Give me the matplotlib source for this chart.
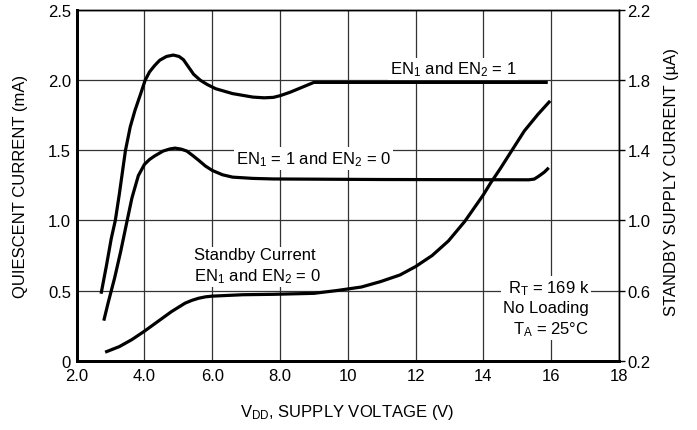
import numpy as np
import matplotlib
matplotlib.use("Agg")
import matplotlib.pyplot as plt

plt.rcParams['font.family'] = ['Liberation Sans', 'DejaVu Sans']

# EN1 and EN2 = 1 (mA, left axis)
v_both = [2.72, 2.88, 3.02, 3.14, 3.26, 3.37, 3.44, 3.58, 3.72, 3.89, 4.02, 4.15, 4.30, 4.45,
          4.65, 4.85, 5.02, 5.15, 5.30, 5.45, 5.65, 5.85, 6.1, 6.6, 7.2, 7.53, 7.8, 8.0, 8.3,
          8.6, 9.0, 12.0, 15.9]
i_both = [0.477, 0.68, 0.87, 1.0, 1.19, 1.38, 1.5, 1.667, 1.785, 1.905, 2.0, 2.06, 2.105, 2.143,
          2.17, 2.18, 2.17, 2.147, 2.095, 2.043, 2.0, 1.97, 1.94, 1.905, 1.88, 1.875, 1.878, 1.89,
          1.915, 1.945, 1.985, 1.985, 1.985]

# EN1 = 1 and EN2 = 0 (mA, left axis)
v_one = [2.80, 2.93, 3.12, 3.30, 3.49, 3.63, 3.82, 4.0, 4.15, 4.30, 4.55, 4.75, 4.90,
         5.08, 5.25, 5.42, 5.60, 5.80, 6.0, 6.3, 6.6, 7.2, 7.8, 11.0, 15.34, 15.5, 15.63,
         15.8, 15.93]
i_one = [0.285, 0.414, 0.59, 0.78, 1.0, 1.16, 1.32, 1.40, 1.435, 1.46, 1.495, 1.51, 1.516,
         1.509, 1.495, 1.464, 1.429, 1.388, 1.357, 1.326, 1.309, 1.30, 1.296, 1.292, 1.29, 1.295,
         1.315, 1.345, 1.376]

# Standby current, EN1 and EN2 = 0 (read on the left grid, converted to uA below)
v_stby = [2.84, 3.26, 3.63, 4.0, 4.40, 4.80, 5.20, 5.40, 5.60, 5.80, 6.0, 6.9, 7.8, 9.0, 9.68,
          10.4, 10.97, 11.54, 12.0, 12.49, 12.97, 13.45, 13.83, 14.0, 14.21, 14.5, 14.8, 15.21,
          15.61, 15.97]
l_stby = [0.06, 0.10, 0.15, 0.21, 0.28, 0.35, 0.41, 0.43, 0.445, 0.455, 0.46, 0.47, 0.473, 0.48, 0.50,
          0.525, 0.564, 0.611, 0.671, 0.75, 0.854, 0.993, 1.124, 1.183, 1.266, 1.37, 1.484, 1.639,
          1.757, 1.853]
ua_stby = [0.2 + 0.8 * v for v in l_stby]

x_ticks = [2, 4, 6, 8, 10, 12, 14, 16, 18]
x_labels = ["2.0", "4.0", "6.0", "8.0", "10", "12", "14", "16", "18"]
y_ticks = [0, 0.5, 1.0, 1.5, 2.0, 2.5]
y_labels = ["0", "0.5", "1.0", "1.5", "2.0", "2.5"]
r_ticks = [0.2, 0.6, 1.0, 1.4, 1.8, 2.2]

fig = plt.figure(figsize=(6.97, 4.31), dpi=100)
ax = fig.add_axes([0.110, 0.161, 0.778, 0.813])
ax2 = ax.twinx()

fs = 12
lw = 2.3
for xs, ys, a in [(v_both, i_both, ax), (v_one, i_one, ax), (v_stby, ua_stby, ax2)]:
    a.plot(xs, ys, color='black', lw=lw, solid_capstyle='butt', solid_joinstyle='round', zorder=3)

ax.set_xlim(2, 18)
ax.set_ylim(0, 2.5)
ax2.set_ylim(0.2, 2.2)
ax.set_xticks(x_ticks)
ax.set_xticklabels(x_labels, fontsize=fs)
ax.set_yticks(y_ticks)
ax.set_yticklabels(y_labels, fontsize=fs)
ax2.set_yticks(r_ticks)
ax2.set_yticklabels([f"{t:.1f}" for t in r_ticks], fontsize=fs)

ax.grid(True, color='#333333', lw=0.9)
ax.set_axisbelow(True)
ax.tick_params(axis='x', length=0, pad=5)
ax.tick_params(axis='y', length=0, pad=4)
ax2.tick_params(axis='y', length=4, width=1, direction='out', pad=2)

for a in [ax, ax2]:
    a.spines['left'].set_linewidth(2.0)
    a.spines['bottom'].set_linewidth(2.0)
    a.spines['top'].set_linewidth(1.0)
    a.spines['right'].set_linewidth(1.0)

box = dict(facecolor='white', edgecolor='none', pad=1.5)
sub = lambda s: r"$\mathregular{_{" + s + "}}$"
ax.text(13.1, 2.08, "EN" + sub("1") + " and EN" + sub("2") + " = 1", fontsize=fs,
        ha='center', va='center', bbox=box, zorder=4)
ax.text(9.0, 1.44, "EN" + sub("1") + " = 1 and EN" + sub("2") + " = 0", fontsize=fs,
        ha='center', va='center', bbox=box, zorder=4)
ax.text(5.46, 0.675, "Standby Current\nEN" + sub("1") + " and EN" + sub("2") + " = 0", fontsize=fs,
        ha='left', va='center', bbox=box, zorder=4, linespacing=1.3)
ax.text(17.12, 0.375, "R" + sub("T") + " = 169 k\nNo Loading\nT" + sub("A") + " = 25°C", fontsize=fs,
        ha='right', va='center', bbox=box, zorder=4, linespacing=1.3)

fig.text(20.7 / 697, 1 - 186.7 / 431, "QUIESCENT CURRENT (mA)", rotation=90, fontsize=fs,
         ha='center', va='center')
fig.text(671.7 / 697, 1 - 182 / 431, "STANDBY SUPPLY CURRENT (µA)", rotation=90, fontsize=fs,
         ha='center', va='center')
fig.text(347.5 / 697, 1 - 413 / 431, "V" + sub("DD") + ", SUPPLY VOLTAGE (V)", fontsize=fs,
         ha='center', va='center')

fig.savefig("out.png", dpi=100)
